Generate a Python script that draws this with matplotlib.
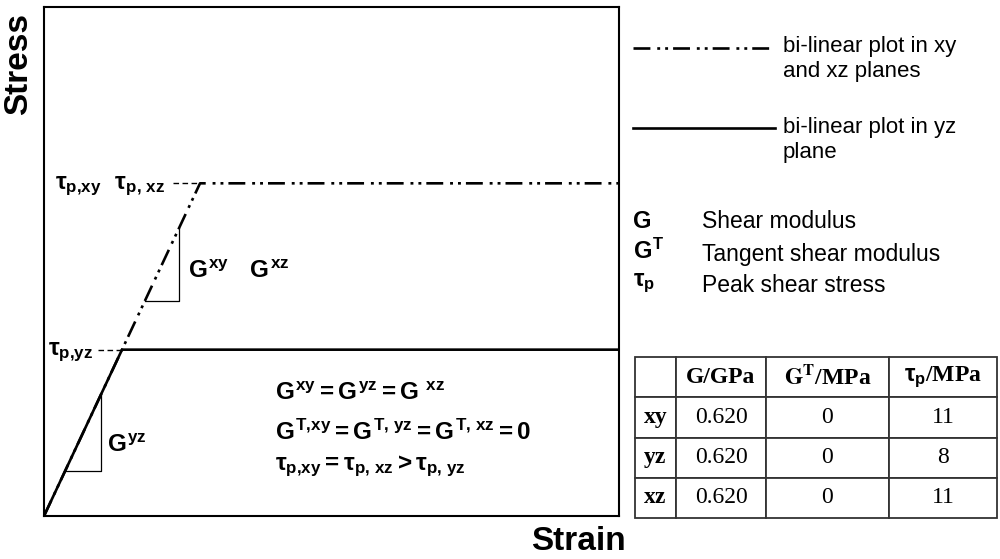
import matplotlib.pyplot as plt

plt.rcParams['font.family'] = ['Liberation Sans', 'DejaVu Sans']
plt.rcParams['mathtext.fontset'] = 'custom'
plt.rcParams['mathtext.rm'] = 'Liberation Sans:bold'
plt.rcParams['mathtext.it'] = 'Liberation Sans:bold'
plt.rcParams['mathtext.bf'] = 'Liberation Sans:bold'
plt.rcParams['mathtext.sf'] = 'Liberation Sans:bold'

# schematic bi-linear curves (arbitrary units)
strain_max = 7.37
strain_xy = [0, 2.0, strain_max]
stress_xy = [0, 2.0, 2.0]
strain_yz = [0, 1.0, strain_max]
stress_yz = [0, 1.0, 1.0]

# table values
planes = ['xy', 'yz', 'xz']
shear_mod = [0.620, 0.620, 0.620]
tangent_mod = [0, 0, 0]
peak_stress = [11, 8, 11]
col_labels = ['', 'G/GPa', r'$\mathbf{G^T}$/MPa', r'$τ_p$/MPa']

W, H = 1000, 559


def fxy(px, py):
    # pixel position -> figure fraction
    return px / W, 1 - py / H


fig = plt.figure(figsize=(10, 5.59), dpi=100)
ax = fig.add_axes([0.044, 1 - 516 / H, 0.575, 509 / H])
ax.set_xlim(0, strain_max)
ax.set_ylim(0, 3.06)
ax.set_xticks([])
ax.set_yticks([])
for s in ax.spines.values():
    s.set_linewidth(1.5)

ax.plot(strain_yz, stress_yz, color='black', lw=1.9, solid_capstyle='butt')
ax.plot(strain_xy, stress_xy, color='black', lw=1.9,
        linestyle=(0, (6.4, 2.6, 1.1, 1.9, 1.1, 1.9)))

# slope triangles on the elastic parts
for xs, ys, (f0, f1) in [(strain_yz, stress_yz, (0.27, 0.73)),
                         (strain_xy, stress_xy, (0.645, 0.865))]:
    x0, y0 = f0 * xs[1], f0 * ys[1]
    x1, y1 = f1 * xs[1], f1 * ys[1]
    ax.plot([x0, x1, x1], [y0, y0, y1], color='black', lw=0.9)

# dashed leaders to the peak stress labels
for xs, ys, frac in [(strain_xy, stress_xy, 0.825), (strain_yz, stress_yz, 0.69)]:
    ax.plot([frac * xs[1], xs[1]], [ys[1], ys[1]], color='black', lw=1.0,
            linestyle=(0, (4, 2.5)))

bold = dict(fontsize=17.5, va='baseline', ha='left')
fig.text(*fxy(55, 189), r'$τ_{p{,}xy}\ \ τ_{p{,}\ xz}$', **bold)
fig.text(*fxy(48, 355), r'$τ_{p{,}yz}$', **bold)
fig.text(*fxy(188, 278), r'$G^{xy}\ \ \ G^{xz}$', **bold)
fig.text(*fxy(107, 452), r'$G^{yz}$', **bold)
fig.text(*fxy(275, 400), r'$G^{xy} = G^{yz} = G\ ^{xz}$', **bold)
fig.text(*fxy(275, 440), r'$G^{T{,}xy} = G^{T{,}\ yz} = G^{T{,}\ xz} = 0$', **bold)
fig.text(*fxy(275, 470), r'$τ_{p{,}xy} = τ_{p{,}\ xz} > τ_{p{,}\ yz}$', **bold)

fig.text(*fxy(19, 64), 'Stress', fontsize=24, fontweight='bold', rotation=90,
         ha='center', va='center')
fig.text(*fxy(578, 541), 'Strain', fontsize=24, fontweight='bold',
         ha='center', va='center')

# legend samples
lx0, lx1 = fxy(633, 0)[0], fxy(775, 0)[0]
fig.add_artist(plt.Line2D([lx0, lx1], [fxy(0, 48)[1]] * 2, color='black', lw=1.9,
                          linestyle=(0, (6.4, 2.6, 1.1, 1.9, 1.1, 1.9))))
fig.add_artist(plt.Line2D([lx0, lx1], [fxy(0, 128)[1]] * 2, color='black', lw=1.9))
fig.text(*fxy(783, 59), 'bi-linear plot in xy\nand xz planes', fontsize=16,
         va='center', linespacing=1.2)
fig.text(*fxy(783, 140), 'bi-linear plot in yz\nplane', fontsize=16,
         va='center', linespacing=1.2)

# symbol definitions
fig.text(*fxy(633, 222), 'G', fontsize=17, fontweight='bold', va='center')
fig.text(*fxy(633, 259), r'$G^T$', fontsize=17, va='baseline')
fig.text(*fxy(633, 286), r'$τ_p$', fontsize=17, va='baseline')
fig.text(*fxy(702, 222), 'Shear modulus', fontsize=16.5, va='center')
fig.text(*fxy(702, 255), 'Tangent shear modulus', fontsize=16.5, va='center')
fig.text(*fxy(702, 285), 'Peak shear stress', fontsize=16.5, va='center')

# table
tax = fig.add_axes([635 / W, 1 - 518 / H, (997 - 635) / W, (518 - 357) / H])
tax.axis('off')
rows = [[p, f'{g:.3f}', str(t), str(s)]
        for p, g, t, s in zip(planes, shear_mod, tangent_mod, peak_stress)]
widths = [41, 90, 123, 108]
tbl = tax.table(cellText=rows, colLabels=col_labels, cellLoc='center',
                bbox=[0, 0, 1, 1], colWidths=[w / sum(widths) for w in widths])
tbl.auto_set_font_size(False)
for (r, c), cell in tbl.get_celld().items():
    cell.set_linewidth(1.3)
    cell.set_edgecolor('#333333')
    t = cell.get_text()
    t.set_fontfamily('Liberation Serif')
    t.set_fontsize(17)
    if r == 0 or c == 0:
        t.set_fontweight('bold')
    if r == 0 and c == 2:
        t.set_math_fontfamily('stix')

fig.savefig('out.png', dpi=100)
